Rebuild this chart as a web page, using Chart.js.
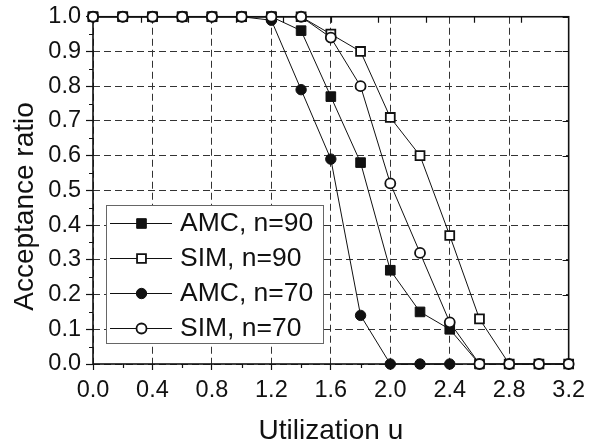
<!DOCTYPE html>
<html>
<head>
<meta charset="utf-8">
<script src="https://cdn.jsdelivr.net/npm/chart.js@4"></script>
<style>
html,body{margin:0;padding:0;background:#fff;}
#wrap{width:594px;height:446px;position:relative;}
</style>
</head>
<body>
<div id="wrap"><canvas id="c" width="594" height="446"></canvas></div>
<script>
// ---- data ----
const utilization = [0,0.2,0.4,0.6,0.8,1.0,1.2,1.4,1.6,1.8,2.0,2.2,2.4,2.6,2.8,3.0,3.2];
const amc90 = [1,1,1,1,1,1,1.0,0.96,0.77,0.58,0.27,0.15,0.10,0,null,null,null];
const sim90 = [1,1,1,1,1,1,1,1,0.95,0.90,0.71,0.60,0.37,0.13,0,0,0];
const amc70 = [1,1,1,1,1,1,0.99,0.79,0.59,0.14,0,0,0,null,null,null,null];
const sim70 = [1,1,1,1,1,1,1,1,0.94,0.80,0.52,0.32,0.12,0,0,0,0];
const seriesNames = ['AMC, n=90','SIM, n=90','AMC, n=70','SIM, n=70'];
const xTicks = [0,0.4,0.8,1.2,1.6,2.0,2.4,2.8,3.2];
const yTicks = [0,0.1,0.2,0.3,0.4,0.5,0.6,0.7,0.8,0.9,1.0];
const xTitle = 'Utilization u';
const yTitle = 'Acceptance ratio';

const FONT = '"Liberation Sans", Arial, sans-serif';
const INK = '#111';

function pts(arr){
  const out=[];
  arr.forEach((v,i)=>{ if(v!==null) out.push({x:utilization[i],y:v}); });
  return out;
}
const styles = [
  {style:'rect',  filled:true,  r:6.8, bw:1},
  {style:'rect',  filled:false, r:6.3, bw:1.8},
  {style:'circle',filled:true,  r:5.2, bw:1},
  {style:'circle',filled:false, r:5.0, bw:1.8}
];
const allSeries = [amc90, sim90, amc70, sim70];
// draw last series on top: list in reverse
const datasets = [];
for (let i = allSeries.length-1; i >= 0; i--) {
  const s = styles[i];
  datasets.push({
    label: seriesNames[i],
    data: pts(allSeries[i]),
    borderColor: INK,
    borderWidth: 1,
    pointStyle: s.style,
    pointRadius: s.r,
    pointHoverRadius: s.r,
    pointBorderWidth: s.bw,
    pointBackgroundColor: s.filled ? INK : '#fff',
    pointBorderColor: INK,
    tension: 0,
    clip: false,
    fill: false
  });
}

const decor = {
  id: 'decor',
  beforeDatasetsDraw(chart){
    const {ctx, chartArea:a, scales} = chart;
    const xs = scales.x, ys = scales.y;
    ctx.save();
    ctx.strokeStyle = INK;
    ctx.lineWidth = 1.2;
    ctx.setLineDash([]);
    ctx.beginPath();
    // minor ticks left (outward) at 0.05 odd
    for (let k = 0; k < yTicks.length-1; k++) {
      const v = (yTicks[k]+yTicks[k+1])/2;
      const y = Math.round(ys.getPixelForValue(v))+0.5;
      ctx.moveTo(a.left-4, y); ctx.lineTo(a.left, y);
    }
    // minor ticks bottom (outward)
    for (let k = 0; k < xTicks.length-1; k++) {
      const v = (xTicks[k]+xTicks[k+1])/2;
      const x = Math.round(xs.getPixelForValue(v))+0.5;
      ctx.moveTo(x, a.bottom); ctx.lineTo(x, a.bottom+4);
    }
    // right ticks (inward) at major y
    yTicks.forEach(v=>{
      const y = Math.round(ys.getPixelForValue(v))+0.5;
      ctx.moveTo(a.right-6, y); ctx.lineTo(a.right, y);
    });
    // top ticks (inward) every 0.32
    for (let k = 1; k < 10; k++) {
      const x = Math.round(xs.getPixelForValue(0.32*k))+0.5;
      ctx.moveTo(x, a.top); ctx.lineTo(x, a.top+6);
    }
    ctx.stroke();
    // frame
    ctx.lineWidth = 1.6;
    ctx.strokeRect(a.left, a.top, a.right-a.left, a.bottom-a.top);
    ctx.restore();
  },
  afterDatasetsDraw(chart){
    const {ctx, chartArea:a} = chart;
    ctx.save();
    // legend box
    const bx = 106, by = 205, bw = 217, bh = 138;
    ctx.fillStyle = '#fff';
    ctx.fillRect(bx, by, bw, bh);
    ctx.strokeStyle = '#666';
    ctx.lineWidth = 1;
    ctx.strokeRect(bx+0.5, by+0.5, bw, bh);
    const rowY = [223, 258, 293, 328];
    ctx.font = '26.5px ' + FONT;
    ctx.textBaseline = 'middle';
    ctx.textAlign = 'left';
    seriesNames.forEach((name, i)=>{
      const y = rowY[i]+0.5;
      const s = styles[i];
      ctx.strokeStyle = INK; ctx.lineWidth = 1;
      ctx.beginPath(); ctx.moveTo(110, y); ctx.lineTo(172, y); ctx.stroke();
      ctx.fillStyle = s.filled ? INK : '#fff';
      ctx.lineWidth = s.bw;
      ctx.beginPath();
      const cx = 141.5;
      if (s.style === 'rect') {
        const h = s.r*Math.SQRT1_2;
        ctx.rect(cx-h, y-h, 2*h, 2*h);
      } else {
        ctx.arc(cx, y, s.r, 0, Math.PI*2);
      }
      ctx.fill(); ctx.stroke();
      ctx.fillStyle = INK;
      ctx.fillText(name, 180, rowY[i]+1);
    });
    // axis titles
    ctx.fillStyle = INK;
    ctx.font = '28px ' + FONT;
    ctx.textAlign = 'center';
    ctx.textBaseline = 'alphabetic';
    ctx.fillText(xTitle, (a.left+a.right)/2, 439);
    ctx.save();
    ctx.translate(33, 206.5);
    ctx.rotate(-Math.PI/2);
    ctx.fillText(yTitle, 0, 0);
    ctx.restore();
    ctx.restore();
  }
};

new Chart(document.getElementById('c'), {
  type: 'line',
  data: { datasets },
  options: {
    responsive: false,
    animation: false,
    devicePixelRatio: 1,
    layout: { padding: { left: 0, right: 23, top: 12, bottom: 0 } },
    plugins: { legend: { display: false }, tooltip: { enabled: false } },
    scales: {
      x: {
        type: 'linear', min: 0, max: 3.2,
        afterBuildTicks(scale){ scale.ticks = xTicks.map(v=>({value:v})); },
        afterFit(scale){ scale.height = 82; },
        ticks: { color: INK, font: { family: FONT, size: 23.5, lineHeight: 1 }, padding: 9,
                 maxRotation: 0, autoSkip: false,
                 callback: v => Number(v).toFixed(1) },
        grid: { color: '#333', lineWidth: 1, drawTicks: true, tickLength: 6,
                tickColor: INK, tickWidth: 1.2, tickBorderDash: [] },
        border: { display: false, dash: [7,4] }
      },
      y: {
        type: 'linear', min: 0, max: 1,
        afterBuildTicks(scale){ scale.ticks = yTicks.map(v=>({value:v})); },
        afterFit(scale){ scale.width = 93; },
        ticks: { color: INK, font: { family: FONT, size: 23.5, lineHeight: 1 }, padding: 5,
                 autoSkip: false,
                 callback: v => Number(v).toFixed(1) },
        grid: { color: '#333', lineWidth: 1, drawTicks: true, tickLength: 7,
                tickColor: INK, tickWidth: 1.2, tickBorderDash: [] },
        border: { display: false, dash: [7,4] }
      }
    }
  },
  plugins: [decor]
});
</script>
</body>
</html>
